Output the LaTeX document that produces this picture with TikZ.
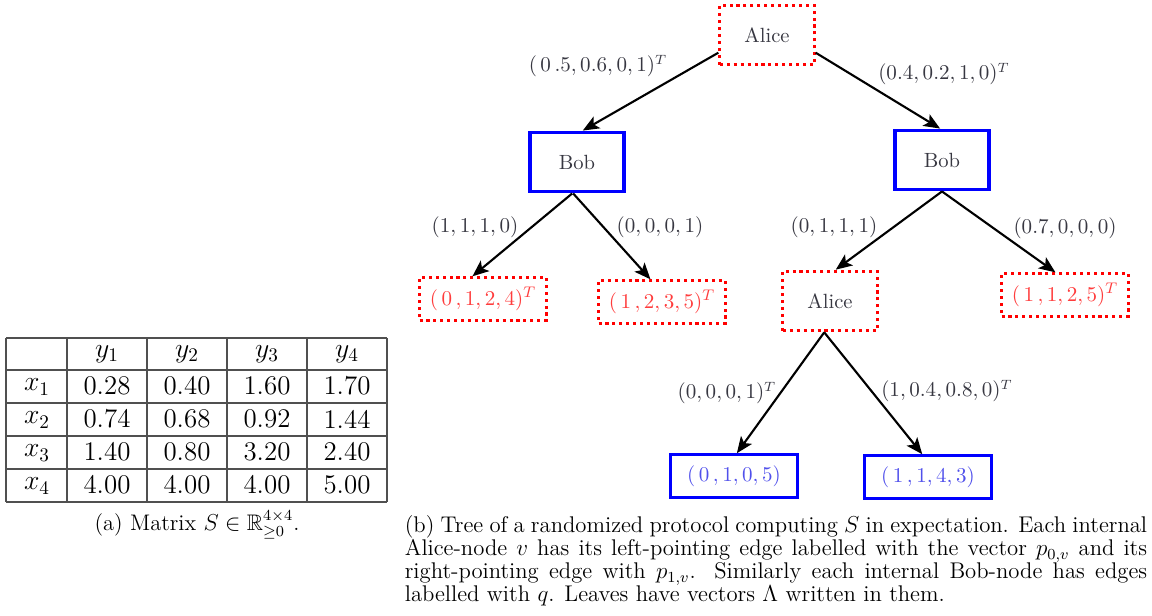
\documentclass[tikz,border=0pt]{standalone}
\usepackage{amsmath,amssymb}
\usetikzlibrary{arrows.meta}
\definecolor{labelgray}{RGB}{55,55,65}
\definecolor{leafred}{RGB}{255,60,60}
\definecolor{leafblue}{RGB}{80,80,235}
\definecolor{rulegray}{RGB}{80,80,80}
\begin{document}
\begin{tikzpicture}[x=0.52pt,y=-0.52pt,
  alicebox/.style={draw=red, dotted, line width=1.6pt, minimum width=49pt, minimum height=31pt,
    text=labelgray, font=\fontsize{10.7}{12}\selectfont},
  bobbox/.style={draw=blue, line width=1.7pt, minimum width=49pt, minimum height=31pt,
    text=labelgray, font=\fontsize{10.7}{12}\selectfont},
  redleaf/.style={draw=red, dotted, line width=1.6pt, minimum width=66pt, minimum height=22pt,
    text=leafred, font=\fontsize{11.2}{12}\selectfont},
  blueleaf/.style={draw=blue, line width=1.7pt, minimum width=66pt, minimum height=22pt,
    text=leafblue, font=\fontsize{11.2}{12}\selectfont},
  edge/.style={line width=1.1pt, -{Stealth[length=8.5pt,width=7pt,inset=2pt]}},
  elabel/.style={text=labelgray, inner sep=0pt, font=\fontsize{10.7}{12}\selectfont},
  cell/.style={inner sep=0pt, font=\fontsize{14}{16}\selectfont},
  grid/.style={draw=rulegray, line width=0.65pt}
]
\useasboundingbox (0,0) rectangle (1152,615);

% ---- protocol tree ----
\node[alicebox] (a0) at (767,35) {Alice};
\node[bobbox]   (b1) at (577,162) {Bob};
\node[bobbox]   (b2) at (942,160) {Bob};
\node[redleaf]  (l1) at (483,299) {$(\,0\,,1,2,4)^T$};
\node[redleaf]  (l2) at (662,302) {$(\,1\,,2,3,5)^T$};
\node[alicebox] (a1) at (830,301) {Alice};
\node[redleaf]  (l3) at (1065,295) {$(\,1\,,1,2,5)^T$};
\node[blueleaf] (l4) at (734,476) {$(\,0\,,1,0,5)$};
\node[blueleaf] (l5) at (928,477) {$(\,1\,,1,4,3)$};

\draw[edge] (a0.200) -- ([xshift=3pt]b1.north);
\draw[edge] (a0.340) -- ([xshift=-1pt]b2.north);
\draw[edge] ([xshift=-2.5pt]b1.south) -- ([xshift=-5.5pt]l1.north);
\draw[edge] ([xshift=-2pt]b1.south) -- ([xshift=-6pt]l2.north);
\draw[edge] (b2.south) -- ([xshift=3pt]a1.north);
\draw[edge] (b2.south) -- ([xshift=-5pt]l3.north);
\draw[edge] ([xshift=-3pt]a1.south) -- ([xshift=1.5pt]l4.north);
\draw[edge] ([xshift=-3pt]a1.south) -- ([xshift=-3pt]l5.north);

\node[elabel] (t1) at (598,66) {$(\,0\,.5, 0.6, 0, 1)^T$};
\node[elabel] (t2) at (944,74) {$(0.4, 0.2, 1, 0)^T$};
\node[elabel] (t3) at (475,227) {$(1, 1, 1, 0)$};
\node[elabel] (t4) at (660,227) {$(0, 0, 0, 1)$};
\node[elabel] (t5) at (834,227) {$(0, 1, 1, 1)$};
\node[elabel] (t6) at (1065,228) {$(0.7, 0, 0, 0)$};
\node[elabel] (t7) at (727,393) {$(0, 0, 0, 1)^T$};
\node[elabel] (t8) at (947,391) {$(1, 0.4, 0.8, 0)^T$};

% ---- matrix S ----
\foreach \yy in {338,370,403,436,469,502} \draw[grid] (6,\yy) -- (387,\yy);
\foreach \xx in {6,67,147,227,307,387} \draw[grid] (\xx,338) -- (\xx,502);
\foreach \c [count=\j] in {107,187,267,347}
  \node[cell] (h\j) at (\c,354) {$y_{\j}$};
\foreach \r [count=\i] in {387,420,453,486}
  \node[cell] (x\i) at (37,\r) {$x_{\i}$};
\foreach \v [count=\k from 0] in {0.28,0.40,1.60,1.70,0.74,0.68,0.92,1.44,1.40,0.80,3.20,2.40,4.00,4.00,4.00,5.00}{
  \pgfmathtruncatemacro{\row}{div(\k,4)}
  \pgfmathtruncatemacro{\col}{mod(\k,4)}
  \node[cell] (c\k) at ({107+80*\col},{386+33*\row}) {\v};
}
\node[font=\fontsize{11.7}{13}\selectfont] (capa) at (197,525)
  {(a) Matrix $S\in\mathbb{R}^{4\times 4}_{\geq 0}$.};

% ---- caption of the tree ----
\node[inner sep=0pt, font=\fontsize{11.8}{12}\selectfont] (capb) at (776,561)
  {\parbox{386pt}{(b) Tree of a randomized protocol computing $S$ in expectation. Each internal\linebreak
   Alice-node $v$ has its left-pointing edge labelled with the vector $p_{0,v}$ and its\linebreak
   right-pointing edge with $p_{1,v}$. Similarly each internal Bob-node has edges\linebreak
   labelled with $q$. Leaves have vectors $\Lambda$ written in them.}};
\end{tikzpicture}
\end{document}
